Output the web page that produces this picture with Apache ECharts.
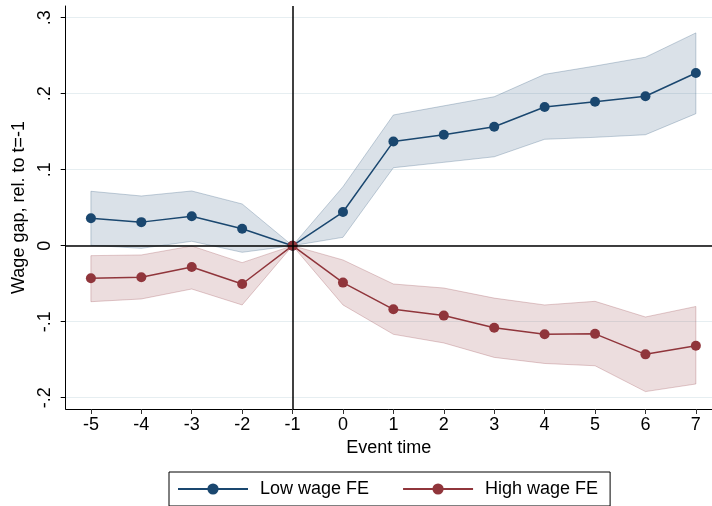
<!DOCTYPE html>
<html>
<head>
<meta charset="utf-8">
<script src="https://cdn.jsdelivr.net/npm/echarts@6/dist/echarts.min.js"></script>
<style>html,body{margin:0;padding:0;background:#fff;}#c{width:712px;height:506px;}</style>
</head>
<body>
<div id="c"></div>
<script>
const eventTime = [-5,-4,-3,-2,-1,0,1,2,3,4,5,6,7];
const lowEst   = [0.036,0.031,0.0387,0.0224,0,0.0443,0.137,0.146,0.1566,0.1825,0.1895,0.1966,0.2272];
const lowUpper = [0.0716,0.0654,0.072,0.0549,0,0.0776,0.172,0.184,0.196,0.2255,0.2364,0.248,0.280];
const lowLower = [0.0005,-0.0035,0.0058,-0.0087,0,0.011,0.1026,0.1097,0.117,0.140,0.1426,0.146,0.1737];
const highEst   = [-0.0429,-0.0416,-0.028,-0.0504,0,-0.0486,-0.0837,-0.092,-0.108,-0.1166,-0.116,-0.143,-0.1316];
const highUpper = [-0.0131,-0.0122,-0.0004,-0.0223,0,-0.0188,-0.0504,-0.0557,-0.069,-0.078,-0.0732,-0.0938,-0.080];
const highLower = [-0.0737,-0.0701,-0.057,-0.078,0,-0.078,-0.1166,-0.128,-0.147,-0.155,-0.158,-0.192,-0.182];
const yTickValues = [-0.2,-0.1,0,0.1,0.2,0.3];
const yTickLabels = ['-.2','-.1','0','.1','.2','.3'];
const xTickValues = eventTime;

const FONT = 'Liberation Sans, Arial, sans-serif';
const BLUE = '#1a476f', RED = '#90353b';

function bandSeries(name, lower, upper, fill, stroke) {
  return {
    type: 'custom', name: name, silent: true, z: 1,
    data: eventTime.map((x, i) => [x, lower[i], upper[i]]),
    encode: {x: 0, y: [1, 2]},
    renderItem: function (params, api) {
      if (params.dataIndex !== 0) return null;
      const pts = [];
      for (let i = 0; i < eventTime.length; i++) pts.push(api.coord([eventTime[i], upper[i]]));
      for (let i = eventTime.length - 1; i >= 0; i--) pts.push(api.coord([eventTime[i], lower[i]]));
      return {type: 'polygon', shape: {points: pts}, style: {fill: fill, stroke: stroke, lineWidth: 1}};
    }
  };
}

const chart = echarts.init(document.getElementById('c'), null, {renderer: 'canvas'});
chart.setOption({
  animation: false,
  backgroundColor: '#fff',
  textStyle: {fontFamily: FONT},
  grid: {left: 65.7, right: 0, top: 6, bottom: 97, containLabel: false},
  legend: {
    data: ['Low wage FE', 'High wage FE'],
    left: 169, top: 472,
    padding: [8, 12, 8, 8],
    itemGap: 33, itemWidth: 70, itemHeight: 14,
    borderColor: '#000', borderWidth: 1,
    textStyle: {fontSize: 18, color: '#000', fontFamily: FONT, padding: [0, 0, 0, 7]}
  },
  xAxis: {
    type: 'value', min: -5.5, max: 7.32,
    name: 'Event time', nameLocation: 'middle', nameGap: 30,
    nameTextStyle: {fontSize: 18, color: '#000', fontFamily: FONT},
    axisLine: {show: true, onZero: false, lineStyle: {color: '#000', width: 1}},
    axisTick: {show: true, length: 5, customValues: xTickValues, lineStyle: {color: '#333'}},
    axisLabel: {customValues: xTickValues, fontSize: 18, color: '#000', margin: 7, fontFamily: FONT},
    splitLine: {show: false}
  },
  yAxis: {
    type: 'value', min: -0.2149, max: 0.3154,
    name: 'Wage gap, rel. to t=-1', nameLocation: 'middle', nameGap: 36,
    nameTextStyle: {fontSize: 18, color: '#000', fontFamily: FONT},
    axisLine: {show: true, onZero: false, lineStyle: {color: '#000', width: 1}},
    axisTick: {show: true, length: 5, customValues: yTickValues, lineStyle: {color: '#000'}},
    axisLabel: {
      customValues: yTickValues, rotate: 90, fontSize: 18, color: '#000', margin: 12, fontFamily: FONT,
      formatter: function (v) {
        let idx = -1;
        yTickValues.forEach((t, i) => { if (Math.abs(t - v) < 1e-9) idx = i; });
        return idx >= 0 ? yTickLabels[idx] : '';
      }
    },
    splitLine: {show: true, lineStyle: {color: '#e6eef1', width: 1}}
  },
  series: [
    bandSeries('lowBand', lowLower, lowUpper, 'rgba(26,71,111,0.16)', 'rgba(26,71,111,0.25)'),
    Object.assign(bandSeries('highBand', highLower, highUpper, 'rgba(144,53,59,0.17)', 'rgba(144,53,59,0.25)'), {
      markLine: {
        silent: true, symbol: 'none', label: {show: false},
        lineStyle: {color: '#000', width: 1.5, type: 'solid'},
        data: [{yAxis: 0}, {xAxis: -1}]
      }
    }),
    {
      type: 'line', name: 'Low wage FE', z: 3,
      data: eventTime.map((x, i) => [x, lowEst[i]]),
      symbol: 'circle', symbolSize: 10, showSymbol: true,
      lineStyle: {color: BLUE, width: 1.5}, itemStyle: {color: BLUE}
    },
    {
      type: 'line', name: 'High wage FE', z: 4,
      data: eventTime.map((x, i) => [x, highEst[i]]),
      symbol: 'circle', symbolSize: 10, showSymbol: true,
      lineStyle: {color: RED, width: 1.5}, itemStyle: {color: RED}
    }
  ]
});
</script>
</body>
</html>
